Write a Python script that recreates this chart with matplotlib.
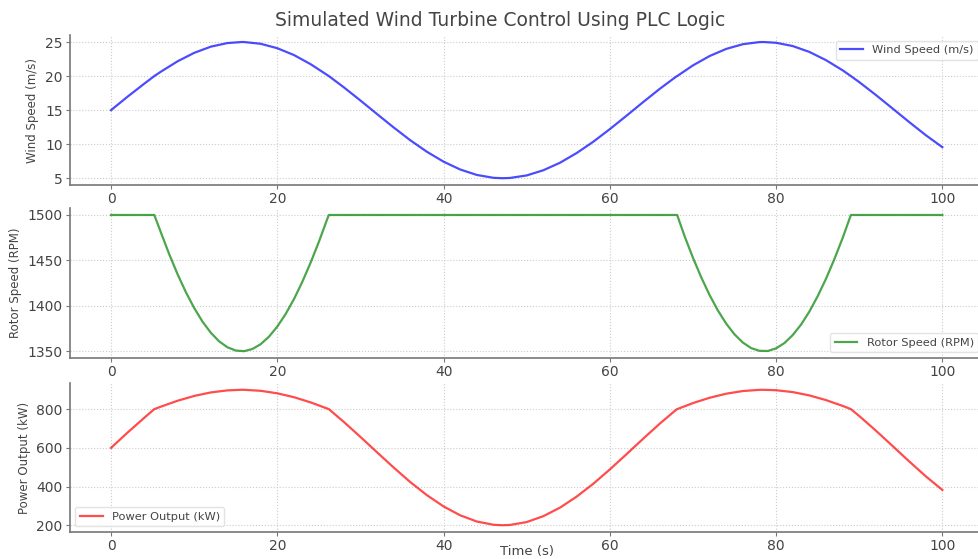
import matplotlib.pyplot as plt

# time samples (s) with the switching points of the controller included
time_s = [0, 2, 4, 5.2, 6, 8, 10, 12, 14, 15.7, 16, 18, 20, 22, 24, 26, 26.2, 28, 30,
          32, 34, 36, 38, 40, 42, 44, 46, 47.1, 48, 50, 52, 54, 56, 58, 60, 62, 64,
          66, 68, 68.1, 70, 72, 74, 76, 78, 78.5, 80, 82, 84, 86, 88, 89.0, 90, 92,
          94, 96, 98, 100]

wind_speed = [15.00, 16.99, 18.89, 20.00, 20.65, 22.17, 23.41, 24.32, 24.85, 25.00,
              25.00, 24.74, 24.09, 23.09, 21.75, 20.16, 20.00, 18.35, 16.41, 14.42,
              12.45, 10.57, 8.88, 7.43, 6.28, 5.48, 5.06, 5.00, 5.04, 5.41, 6.17,
              7.27, 8.69, 10.35, 12.21, 14.17, 16.17, 18.12, 19.94, 20.00, 21.57,
              22.94, 23.99, 24.68, 24.99, 25.00, 24.89, 24.41, 23.55, 22.34, 20.85,
              20.00, 19.12, 17.23, 15.25, 13.26, 11.33, 9.56]

power_output = [600, 679.6, 755.6, 800, 813.0, 843.4, 868.2, 886.4, 897.0, 900,
                900.0, 894.8, 881.8, 861.8, 835.0, 803.2, 800, 734.0, 656.4, 576.8,
                498.0, 422.8, 355.2, 297.2, 251.2, 219.2, 202.4, 200, 201.6, 216.4,
                246.8, 290.8, 347.6, 414.0, 488.4, 566.8, 646.8, 724.8, 797.6, 800,
                831.4, 858.8, 879.8, 893.6, 899.8, 900, 897.8, 888.2, 871.0, 846.8,
                817.0, 800, 764.8, 689.2, 610.0, 530.4, 453.2, 382.4]

# rotor speed sampled more densely inside the two dips
rotor_time = [0, 5.2, 6, 7, 8, 9, 10, 11, 12, 13, 14, 15, 16, 17, 18, 19, 20, 21, 22,
              23, 24, 25, 26, 26.2, 68.1, 69, 70, 71, 72, 73, 74, 75, 76, 77, 78, 79,
              80, 81, 82, 83, 84, 85, 86, 87, 88, 89.0, 100]

rotor_speed = [1500, 1500, 1480.6, 1456.7, 1434.8, 1415.0, 1397.6, 1382.6, 1370.4,
               1360.9, 1354.4, 1350.8, 1350.1, 1352.5, 1357.8, 1366.1, 1377.2, 1391.0,
               1407.4, 1426.3, 1447.4, 1470.5, 1495.4, 1500, 1500, 1476.5, 1452.9,
               1431.3, 1411.9, 1394.9, 1380.4, 1368.6, 1359.6, 1353.5, 1350.5, 1350.3,
               1353.2, 1359.0, 1367.8, 1379.3, 1393.6, 1410.5, 1429.7, 1451.1, 1474.5,
               1500, 1500]

text_col = '#444444'
plt.rcParams['font.family'] = 'DejaVu Sans'

fig = plt.figure(figsize=(9.79, 5.59), dpi=100)
ax1 = fig.add_axes([0.071, 0.669, 0.934, 0.268])
ax2 = fig.add_axes([0.071, 0.3596, 0.934, 0.268])
ax3 = fig.add_axes([0.071, 0.0483, 0.934, 0.2665])

ax1.plot(time_s, wind_speed, color='blue', alpha=0.7, lw=1.6, label='Wind Speed (m/s)')
ax2.plot(rotor_time, rotor_speed, color='green', alpha=0.7, lw=1.6, label='Rotor Speed (RPM)')
ax3.plot(time_s, power_output, color='red', alpha=0.7, lw=1.6, label='Power Output (kW)')

ax1.set_ylabel('Wind Speed (m/s)', fontsize=8.5, color=text_col)
ax2.set_ylabel('Rotor Speed (RPM)', fontsize=8.5, color=text_col)
ax3.set_ylabel('Power Output (kW)', fontsize=8.5, color=text_col)
ax3.set_xlabel('Time (s)', fontsize=9.5, color=text_col)
ax3.xaxis.label.set_va('bottom')
ax3.xaxis.set_label_coords(0.5, -0.175)

ax1.set_yticks([5, 10, 15, 20, 25])
ax2.set_yticks([1350, 1400, 1450, 1500])
ax3.set_yticks([200, 400, 600, 800])

legend_locs = ['upper right', 'lower right', 'lower left']
for ax, loc in zip([ax1, ax2, ax3], legend_locs):
    ax.set_xticks([0, 20, 40, 60, 80, 100])
    ax.grid(True, linestyle=':', color='#cccccc', lw=0.8)
    ax.set_axisbelow(True)
    for side in ['top', 'right']:
        ax.spines[side].set_visible(False)
    for side in ['left', 'bottom']:
        ax.spines[side].set_color('#777777')
        ax.spines[side].set_linewidth(1.2)
    ax.tick_params(direction='out', colors='#777777', labelcolor=text_col,
                   labelsize=10, length=3, pad=2)
    leg = ax.legend(loc=loc, fontsize=8.2, framealpha=0.8, edgecolor='#dddddd')
    for t in leg.get_texts():
        t.set_color(text_col)

fig.text(0.511, 0.963, 'Simulated Wind Turbine Control Using PLC Logic',
         ha='center', va='center', fontsize=13.5, color=text_col)

fig.savefig('out.png', dpi=100)
